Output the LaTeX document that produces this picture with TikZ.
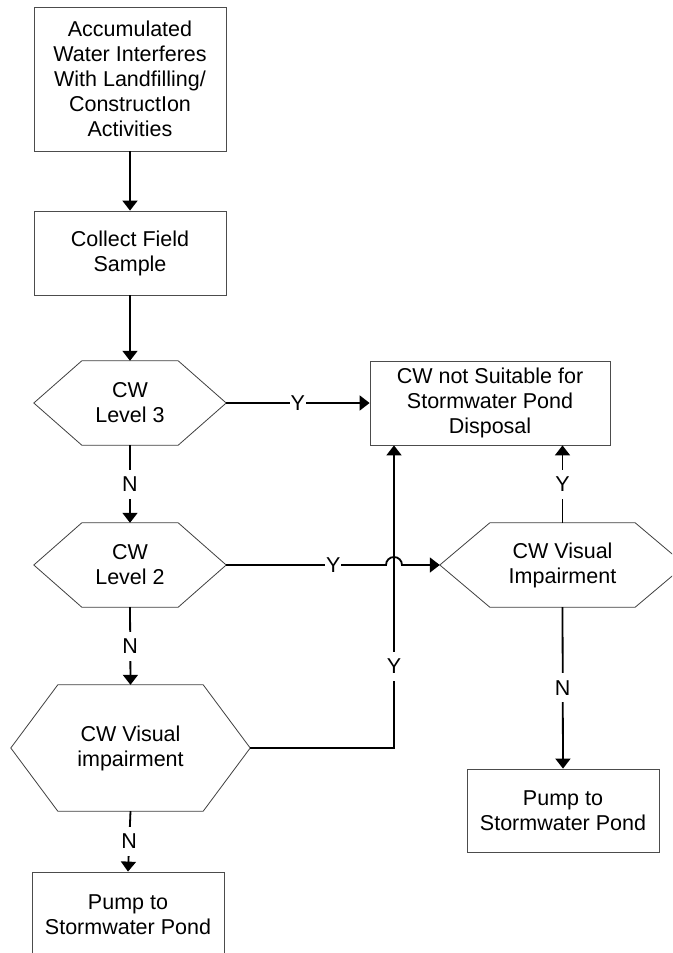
\documentclass[tikz,border=0pt]{standalone}
\usepackage{fontspec}
\setmainfont{Liberation Sans}
\usetikzlibrary{arrows.meta}
\tikzset{
  base/.style={inner sep=0pt, align=center, font=\fontsize{21.5}{25}\selectfont},
  boxnode/.style={base, draw=black!70, line width=0.8pt, rectangle},
  hexnode/.style={base, rectangle},
  hexline/.style={draw=black!75, line width=0.8pt},
  conn/.style={draw=black, line width=1.8pt, -{Triangle[width=15pt,length=10pt]}},
  lbl/.style={fill=white, inner xsep=1pt, inner ysep=7pt, text height=15pt, text depth=0pt, font=\fontsize{21.5}{25}\selectfont}
}
\newcommand{\hexdraw}[2]{\draw[hexline] (#1.west) -- ([xshift=#2]#1.north west) -- ([xshift=-#2]#1.north east) -- (#1.east) -- ([xshift=-#2]#1.south east) -- ([xshift=#2]#1.south west) -- cycle;}
\begin{document}
\begin{tikzpicture}[x=1pt,y=-1pt]
\useasboundingbox (0,0) rectangle (672,953);
\clip (0,0) rectangle (672,953);
\fill[white] (0,0) rectangle (672,953);

\node[boxnode, minimum width=192pt, minimum height=144pt] (box1) at (130,79) {Accumulated\\Water Interferes\\With Landfilling/\\ConstructIon\\Activities};
\node[boxnode, minimum width=192pt, minimum height=84pt] (box2) at (130,253) {Collect Field\\Sample};
\node[hexnode, minimum width=192pt, minimum height=84pt] (l3) at (130,403) {CW\\Level 3};
\hexdraw{l3}{48pt}
\node[boxnode, minimum width=240pt, minimum height=84pt] (box3) at (490,403) {CW not Suitable for\\Stormwater Pond\\Disposal};
\node[hexnode, minimum width=192pt, minimum height=84pt] (l2) at (130,565) {CW\\Level 2};
\hexdraw{l2}{48pt}
\node[hexnode, minimum width=245pt, minimum height=84pt] (rhex) at (562.5,565) {CW Visual\\Impairment};
\hexdraw{rhex}{50pt}
\node[hexnode, minimum width=239pt, minimum height=126pt] (lvis) at (130.5,748) {CW Visual\\impairment};
\hexdraw{lvis}{47pt}
\node[boxnode, minimum width=192pt, minimum height=83pt] (rpump) at (563,810.5) {Pump to\\Stormwater Pond};
\node[boxnode, minimum width=192pt, minimum height=85pt] (lpump) at (128,914.5) {Pump to\\Stormwater Pond};

\coordinate (j1) at (386,565);
\coordinate (c1) at (394,748);

\draw[conn] (box1.south) -- (box2.north);
\draw[conn] (box2.south) -- (l3.north);
\draw[conn] (l3.east) -- node[lbl]{Y} (box3.west);
\draw[conn] (l3.south) -- node[lbl]{N} (l2.north);
\draw[conn] (l2.south) -- node[lbl]{N} (lvis.north);
\draw[conn] (lvis.south) -- node[lbl]{N} (lpump.north);
\draw[conn] (l2.east) -- node[lbl, pos=0.67]{Y} (j1) arc (180:0:8pt) -- (rhex.west);
\draw[conn] (lvis.east) -- (c1) -- node[lbl, pos=0.27]{Y} (box3.south -| c1);
\draw[conn] (rhex.north) -- node[lbl]{Y} (rhex.north |- box3.south);
\draw[conn] (rhex.south) -- node[lbl]{N} (rpump.north);
\end{tikzpicture}
\end{document}
